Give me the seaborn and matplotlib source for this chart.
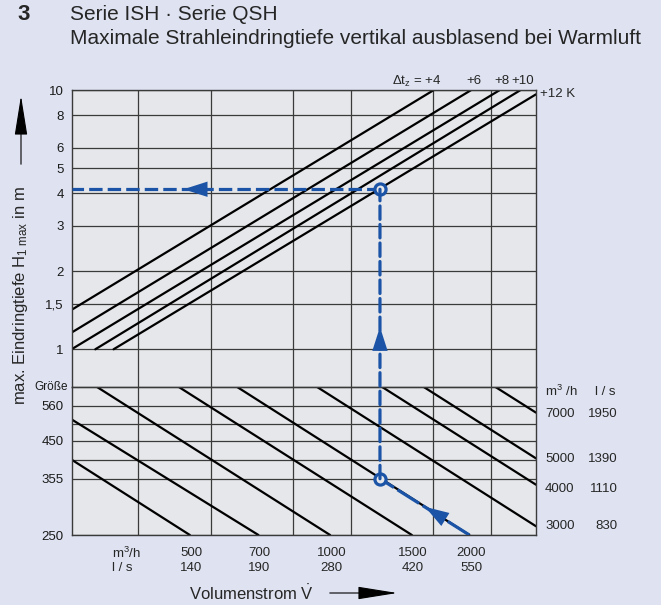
"""
Nomogram: max. Eindringtiefe (vertikal ausblasend, Warmluft) for Serie ISH / QSH.
Upper panel: H1max over Volumenstrom per Δtz; lower panel: Größe over Volumenstrom.
"""
import matplotlib
matplotlib.use("Agg")
import matplotlib.pyplot as plt
import numpy as np
import pandas as pd
import seaborn as sns
from matplotlib.patches import ConnectionPatch, FancyArrowPatch
from matplotlib.ticker import NullLocator

# ------------------------------------------------------------------------
#  Data
# ------------------------------------------------------------------------
V_LIM = (272, 2720)          # Volumenstrom m3/h (log)
H_LIM = (0.717, 10)          # H1max in m (log)
SIZE_LIM = (250, 630)        # Größe (log)

v_grid = [378, 544, 816, 1088, 1632, 2176]
h_ticks = [1, 1.5, 2, 3, 4, 5, 6, 8, 10]
h_labels = ["1", "1,5", "2", "3", "4", "5", "6", "8", "10"]
size_ticks = [250, 355, 400, 450, 500, 560, 630]
size_labels = ["250", "355", "", "450", "", "560", ""]
size_caption = "Größe"

v_ticks = [500, 700, 1000, 1500, 2000]
v_ticks_m3h = ["500", "700", "1000", "1500", "2000"]
v_ticks_ls = ["140", "190", "280", "420", "550"]

# upper family: one line per Δtz
dt_names = ["+4", "+6", "+8", "+10", "+12"]
dt_v_start = [272, 272, 272, 306, 335]
dt_h_start = [1.42, 1.16, 1.0, 1.0, 1.0]
dt_v_end = [1635, 1968, 2268, 2514, 2720]
dt_h_end = [10, 10, 10, 10, 9.65]

# lower family: size lines
sz_v_start = [272, 272, 308, 462, 617, 917, 1266, 1556, 2220]
sz_s_start = [400, 514, 630, 630, 630, 630, 630, 630, 630]
sz_v_end = [489, 687, 980, 1470, 1955, 2720, 2720, 2720, 2720]
sz_s_end = [250, 250, 250, 250, 250, 264, 342, 403, 536]

# labels on the right of the lower panel
flow_m3h = ["7000", "5000", "4000", "3000"]
flow_ls = ["1950", "1390", "1110", "830"]
flow_size = [532, 401, 333, 264]

# example reading (blue path)
ex_v = 1255
ex_size = 355
ex_h = 4.15
ex_v_bottom = 1955
ex_up_arrow = (1.0, 1.22)            # H base -> tip
ex_left_arrow = (522, 474)           # V base -> tip
ex_diag_arrow = ((1676, 283), (1569, 298))

BG = "#dfe3f1"
PANEL = "#e6e7ea"
GRID = "#3a3a3a"
BLUE = "#1b54a6"

sns.set_theme(style="white")
plt.rcParams["font.family"] = ["Liberation Sans", "DejaVu Sans"]
plt.rcParams["mathtext.fontset"] = "custom"
plt.rcParams["mathtext.rm"] = "Liberation Sans"
plt.rcParams["mathtext.it"] = "Liberation Sans:italic"
plt.rcParams["mathtext.bf"] = "Liberation Sans:bold"

fig = plt.figure(figsize=(6.61, 6.05), dpi=100)
fig.patch.set_facecolor(BG)
ax_top = fig.add_axes([0.1082, 0.3608, 0.7027, 0.4899])
ax_bot = fig.add_axes([0.1082, 0.1157, 0.7027, 0.2451])

# ------------------------------------------------------------------------
#  Curves
# ------------------------------------------------------------------------
upper = pd.DataFrame({
    "line": np.repeat(dt_names, 2),
    "V": np.column_stack([dt_v_start, dt_v_end]).ravel(),
    "H": np.column_stack([dt_h_start, dt_h_end]).ravel(),
})
lower = pd.DataFrame({
    "line": np.repeat(np.arange(len(sz_v_start)), 2),
    "V": np.column_stack([sz_v_start, sz_v_end]).ravel(),
    "S": np.column_stack([sz_s_start, sz_s_end]).ravel(),
})

for ax in (ax_top, ax_bot):
    ax.set_xscale("log")
    ax.set_yscale("log")

sns.lineplot(data=upper, x="V", y="H", units="line", estimator=None, sort=False,
             color="black", lw=1.6, legend=False, ax=ax_top)
sns.lineplot(data=lower, x="V", y="S", units="line", estimator=None, sort=False,
             color="black", lw=1.6, legend=False, ax=ax_bot)

for ax, ylim, yt, yl in ((ax_top, H_LIM, h_ticks, h_labels),
                         (ax_bot, SIZE_LIM, size_ticks, size_labels)):
    ax.set_facecolor(PANEL)
    ax.set_xlim(*V_LIM)
    ax.set_ylim(*ylim)
    ax.set_xticks(v_grid)
    ax.set_xticklabels([])
    ax.set_yticks(yt)
    ax.set_yticklabels(yl)
    ax.xaxis.set_minor_locator(NullLocator())
    ax.yaxis.set_minor_locator(NullLocator())
    ax.grid(True, color=GRID, lw=0.9)
    ax.tick_params(length=0, pad=5.5, labelsize=9.5, colors="#1a1a1a")
    ax.set_xlabel("")
    ax.set_ylabel("")
    for sp in ax.spines.values():
        sp.set_visible(True)
        sp.set_color(GRID)
        sp.set_linewidth(1.0)

# caption of the size axis, tucked close to the frame
ax_bot.annotate(size_caption, xy=(0, SIZE_LIM[1]), xycoords=ax_bot.get_yaxis_transform(),
                xytext=(-2.5, 0), textcoords="offset points", ha="right", va="center",
                fontsize=8.5, color="#1a1a1a")

# Δtz labels at the line ends
for i, name in enumerate(dt_names):
    if name == "+4":
        txt, off, ha = r"$\Delta$t$_\mathrm{z}$ = +4", (-12, 6.5), "center"
    elif name == "+12":
        txt, off, ha = "+12 K", (3, 0), "left"
    else:
        txt, off, ha = name, (2, 7), "center"
    ax_top.annotate(txt, xy=(dt_v_end[i], dt_h_end[i]), xytext=off,
                    textcoords="offset points", ha=ha, va="center", fontsize=9.5,
                    annotation_clip=False)

# x tick labels (two rows)
xt = ax_bot.get_xaxis_transform()
for v, a, b in zip(v_ticks, v_ticks_m3h, v_ticks_ls):
    ax_bot.annotate(a, xy=(v, 0), xycoords=xt, xytext=(-2, -13), textcoords="offset points",
                    ha="center", va="center", fontsize=9.5)
    ax_bot.annotate(b, xy=(v, 0), xycoords=xt, xytext=(-2, -24), textcoords="offset points",
                    ha="center", va="center", fontsize=9.5)
ax_bot.text(0.087, -0.121, r"m$^3$/h", transform=ax_bot.transAxes, ha="left", va="center", fontsize=9.5)
ax_bot.text(0.087, -0.222, "l / s", transform=ax_bot.transAxes, ha="left", va="center", fontsize=9.5)

# right-hand flow labels
yt_r = ax_bot.get_yaxis_transform()
ax_bot.text(1.0194, 610, r"m$^3$ /h", transform=yt_r, ha="left", va="center", fontsize=9.5)
ax_bot.text(1.1722, 610, "l / s", transform=yt_r, ha="right", va="center", fontsize=9.5)
for a, b, s in zip(flow_m3h, flow_ls, flow_size):
    ax_bot.text(1.0194, s, a, transform=yt_r, ha="left", va="center", fontsize=9.5)
    ax_bot.text(1.1765, s, b, transform=yt_r, ha="right", va="center", fontsize=9.5)

# ------------------------------------------------------------------------
#  Example path (blue)
# ------------------------------------------------------------------------
ax_bot.plot([ex_v_bottom, ex_v], [SIZE_LIM[0], ex_size], color=BLUE, lw=2.3,
            linestyle=(0, (8, 1.3)), solid_capstyle="butt", zorder=4)
ax_top.plot([ex_v, V_LIM[0]], [ex_h, ex_h], color=BLUE, lw=2.3,
            linestyle=(0, (4.2, 1.6)), zorder=4)
con = ConnectionPatch(xyA=(ex_v, ex_size), coordsA=ax_bot.transData,
                      xyB=(ex_v, ex_h), coordsB=ax_top.transData,
                      color=BLUE, lw=2.3, linestyle=(0, (4.2, 1.6)), zorder=4)
fig.add_artist(con)

head = dict(arrowstyle="-|>,head_length=0.75,head_width=0.24", mutation_scale=23,
            color=BLUE, lw=0, shrinkA=0, shrinkB=0)
ax_top.annotate("", xy=(ex_v, ex_up_arrow[1]), xytext=(ex_v, ex_up_arrow[0]), arrowprops=head, zorder=5)
ax_top.annotate("", xy=(ex_left_arrow[1], ex_h), xytext=(ex_left_arrow[0], ex_h), arrowprops=head, zorder=5)
ax_bot.annotate("", xy=ex_diag_arrow[1], xytext=ex_diag_arrow[0], arrowprops=head, zorder=5)

ax_top.plot([ex_v], [ex_h], marker="o", ms=8, mfc=PANEL, mec=BLUE, mew=2.3, zorder=6)
ax_bot.plot([ex_v], [ex_size], marker="o", ms=8, mfc=PANEL, mec=BLUE, mew=2.3, zorder=6)

# ------------------------------------------------------------------------
#  Titles and axis captions
# ------------------------------------------------------------------------
fig.text(17 / 661, 1 - 14 / 605, "3", fontsize=16, fontweight="bold", va="center", ha="left")
fig.text(70 / 661, 1 - 15 / 605, "Serie ISH · Serie QSH", fontsize=15, va="center", ha="left")
fig.text(70 / 661, 1 - 39 / 605, "Maximale Strahleindringtiefe vertikal ausblasend bei Warmluft",
         fontsize=15, va="center", ha="left")

fig.text(21 / 661, 1 - 296 / 605, r"max. Eindringtiefe H$_{1\ \mathrm{max}}$ in m",
         rotation=90, ha="center", va="center", fontsize=12)
fig.add_artist(FancyArrowPatch((21 / 661, 1 - 167 / 605), (21 / 661, 1 - 93 / 605),
                               transform=fig.transFigure, color="black", lw=0.8,
                               arrowstyle="-|>,head_length=2.5,head_width=0.4", mutation_scale=10))

fig.text(251 / 661, 1 - 593 / 605, r"Volumenstrom $\dot{\mathrm{V}}$", ha="center", va="center", fontsize=12)
fig.add_artist(FancyArrowPatch((327 / 661, 1 - 593 / 605), (400 / 661, 1 - 593 / 605),
                               transform=fig.transFigure, color="black", lw=0.8,
                               arrowstyle="-|>,head_length=2.5,head_width=0.4", mutation_scale=10))

fig.savefig("out.png", dpi=100, facecolor=fig.get_facecolor())
plt.close(fig)
